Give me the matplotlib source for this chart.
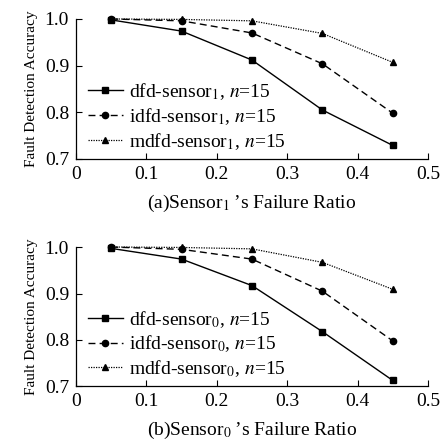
# fault detection accuracy vs failure ratio, two panels (sensor1 / sensor0)

import matplotlib
matplotlib.use("Agg")
import matplotlib.pyplot as plt

plt.rcParams['font.family'] = ['Liberation Serif', 'DejaVu Serif']
plt.rcParams['mathtext.fontset'] = 'stix'

# data
ratio = [0.05, 0.15, 0.25, 0.35, 0.45]
xticks = [0, 0.1, 0.2, 0.3, 0.4, 0.5]
yticks = [0.7, 0.8, 0.9, 1.0]

# panel (a) sensor 1
dfd_s1 = [0.998, 0.974, 0.912, 0.805, 0.729]
idfd_s1 = [1.0, 0.996, 0.970, 0.904, 0.798]
mdfd_s1 = [1.0, 0.999, 0.996, 0.969, 0.907]

# panel (b) sensor 0
dfd_s0 = [0.997, 0.974, 0.917, 0.818, 0.713]
idfd_s0 = [1.0, 0.995, 0.974, 0.905, 0.798]
mdfd_s0 = [1.0, 0.999, 0.996, 0.967, 0.909]

panels = [
    ("1", "(a)", dfd_s1, idfd_s1, mdfd_s1, [0.1696, 0.6395, 0.7857, 0.3175]),
    ("0", "(b)", dfd_s0, idfd_s0, mdfd_s0, [0.1696, 0.1236, 0.7857, 0.3163]),
]

fig = plt.figure(figsize=(4.48, 4.41), dpi=100)

for sub, tag, dfd, idfd, mdfd, rect in panels:
    ax = fig.add_axes(rect)
    ax.plot(ratio, dfd, color='black', lw=1.0, ls='-', marker='s', ms=5,
            label='dfd-sensor$_{%s}$, $n$=15' % sub, clip_on=False)
    ax.plot(ratio, idfd, color='black', lw=1.0, ls=(0, (5, 3)), marker='o', ms=4.5,
            label='idfd-sensor$_{%s}$, $n$=15' % sub, clip_on=False)
    ax.plot(ratio, mdfd, color='black', lw=0.9, ls=(0, (1, 1)), marker='^', ms=5,
            label='mdfd-sensor$_{%s}$, $n$=15' % sub, clip_on=False)

    ax.set_xlim(0, 0.5)
    ax.set_ylim(0.7, 1.0)
    ax.set_xticks(xticks)
    ax.set_xticklabels(['0', '0.1', '0.2', '0.3', '0.4', '0.5'])
    ax.set_yticks(yticks)
    ax.set_yticklabels(['0.7', '0.8', '0.9', '1.0'])
    ax.tick_params(direction='in', length=4, width=0.8, labelsize=14, pad=5)
    ax.spines['top'].set_visible(False)
    ax.spines['right'].set_visible(False)
    for s in ('left', 'bottom'):
        ax.spines[s].set_linewidth(0.9)

    ax.set_xlabel(tag + 'Sensor$_{%s}$\u2009\u2019s Failure Ratio' % sub,
                  fontsize=14, labelpad=7)
    ax.set_ylabel('Fault Detection Accuracy', fontsize=11, labelpad=5)

    ax.legend(loc='lower left', bbox_to_anchor=(0.0, -0.03), frameon=False,
              fontsize=14, handlelength=1.8, handletextpad=0.35,
              labelspacing=0.2, borderaxespad=0.2)

fig.savefig('out.png', dpi=100)
